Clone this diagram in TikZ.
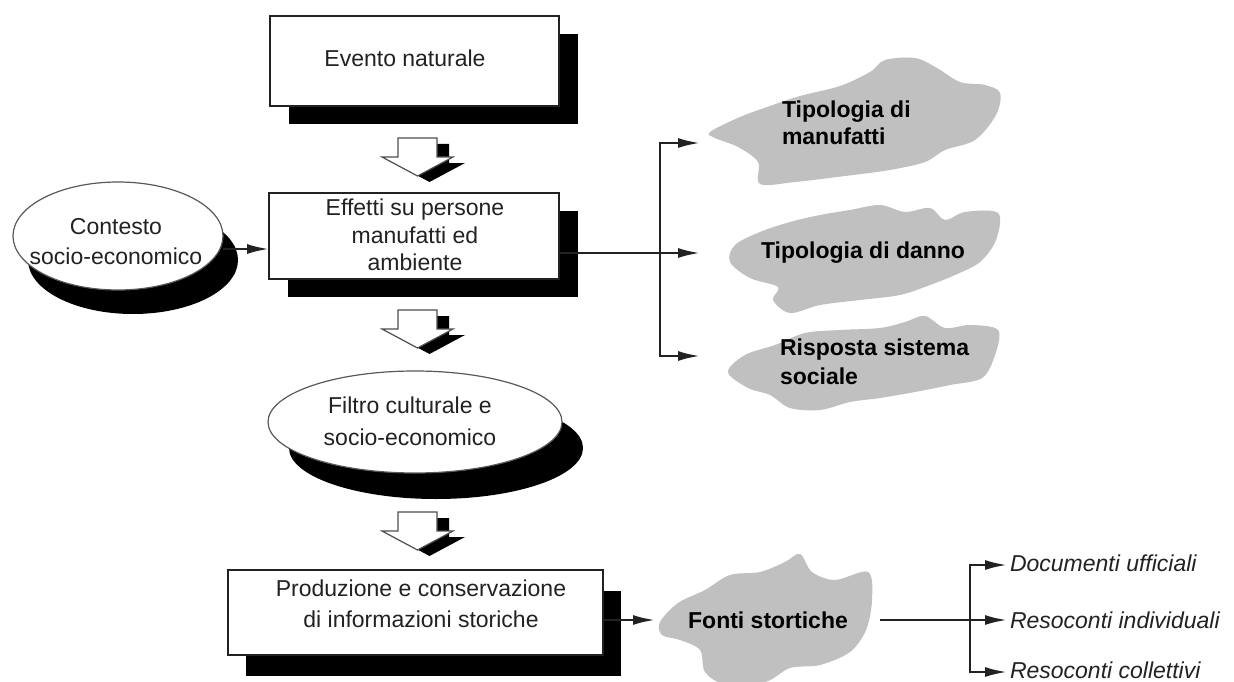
\documentclass[tikz,border=0pt]{standalone}
\usepackage{fontspec}
\setmainfont{Liberation Sans}
\usetikzlibrary{shapes.geometric,shadows,arrows.meta}
\definecolor{cloudgray}{HTML}{C0C0C0}
\definecolor{ink}{HTML}{222222}
\begin{document}
\begin{tikzpicture}[x=1pt,y=-1pt,
  every node/.style={inner sep=0pt, outer sep=0pt},
  boxshape/.style={rectangle, draw=ink, line width=2pt, fill=white},
  boxshadow/.style={drop shadow={shadow xshift=19pt, shadow yshift=-18pt, fill=black, opacity=1}},
  ellshape/.style={ellipse, draw=ink!75, line width=1.2pt, fill=white},
  lbl/.style={text=ink, font=\fontsize{23}{28}\selectfont, align=center},
  cloudlbl/.style={text=black, font=\bfseries\fontsize{23}{28}\selectfont, align=left},
  itlbl/.style={text=ink, font=\itshape\fontsize{23}{28}\selectfont, anchor=west},
  wire/.style={draw=ink, line width=2.4pt},
  conn/.style={wire, -{Latex[length=22pt,width=10pt]}},
  cloudfill/.style={fill=cloudgray},
  blockarrow/.pic={
    \fill[black] (12,6) -- ++(39,0) -- ++(0,19) -- ++(16,0) -- ++(-35.5,19) -- ++(-35.5,-19) -- ++(16,0) -- cycle;
    \draw[fill=white, draw=ink!80, line width=1.2pt] (0,0) -- (39,0) -- (39,19) -- (55,19) -- (19.5,38) -- (-16,19) -- (0,19) -- cycle;
  }
]
\fill[white] (0,0) rectangle (1234,682);
\useasboundingbox (0,0) rectangle (1234,682);

% boxes
\node[boxshape, boxshadow, minimum width=289pt, minimum height=90pt] (evento) at (414.5,61) {};
\node[lbl] (eventot) at (405,58) {Evento naturale};

\node[boxshape, boxshadow, minimum width=290pt, minimum height=86pt] (effetti) at (414,236) {};
\node[lbl, font=\fontsize{23}{27.5}\selectfont] (effettit) at (415,235) {Effetti su persone\\manufatti ed\\ambiente};

\node[boxshape, drop shadow={shadow xshift=18pt, shadow yshift=-21pt, fill=black, opacity=1}, minimum width=375pt, minimum height=85pt] (produzione) at (415.5,612.5) {};
\node[lbl, font=\fontsize{23}{31}\selectfont] (produzionet) at (421,604) {Produzione e conservazione\\di informazioni storiche};

% ellipses
\node[ellshape, drop shadow={shadow xshift=15pt, shadow yshift=-24pt, fill=black, opacity=1}, minimum width=210pt, minimum height=108pt] (contesto) at (118,236) {};
\node[lbl, font=\fontsize{23}{30}\selectfont] (contestot) at (116,242) {Contesto\\socio-economico};

\node[ellshape, drop shadow={shadow xshift=21pt, shadow yshift=-26pt, fill=black, opacity=1}, minimum width=294pt, minimum height=102pt] (filtro) at (415,422) {};
\node[lbl, font=\fontsize{23}{32}\selectfont] (filtrot) at (410,421) {Filtro culturale e\\socio-economico};

% block arrows
\pic at (398,138) {blockarrow};
\pic at (398,310) {blockarrow};
\pic at (398,512) {blockarrow};

% clouds
\fill[cloudfill] plot[smooth cycle, tension=0.55] coordinates {(710,132) (740,117) (770,106) (800,96) (840,86) (870,72) (885,60) (915,58) (937,68) (960,82) (985,85) (1000,93) (996,115) (975,140) (945,150) (925,162) (890,170) (845,176) (795,182) (760,184) (758,162) (738,147) (715,138)};
\fill[cloudfill] plot[smooth cycle, tension=0.55] coordinates {(735,245) (760,232) (790,222) (820,215) (850,210) (880,205) (905,212) (930,208) (945,220) (965,212) (998,213) (996,240) (980,262) (955,275) (930,285) (900,295) (860,300) (820,305) (790,313) (773,300) (778,287) (750,278) (730,262)};
\fill[cloudfill] plot[smooth cycle, tension=0.55] coordinates {(728,372) (745,355) (775,345) (805,333) (840,330) (880,328) (905,322) (925,316) (945,328) (970,325) (998,330) (995,355) (982,378) (950,385) (915,392) (880,398) (850,402) (820,410) (790,408) (770,395) (748,388)};
\fill[cloudfill] plot[smooth cycle, tension=0.55] coordinates {(660,622) (678,603) (705,590) (730,575) (760,572) (785,562) (800,554) (812,572) (835,580) (868,572) (872,600) (866,630) (850,652) (820,665) (790,668) (765,682) (725,684) (705,672) (700,650) (680,640) (662,635)};

\node[cloudlbl, anchor=west, font=\bfseries\fontsize{23}{27}\selectfont] (tipo1) at (782,123) {Tipologia di\\manufatti};
\node[cloudlbl] (tipo2) at (863,253) {Tipologia di danno};
\node[cloudlbl, anchor=west, font=\bfseries\fontsize{23}{29}\selectfont] (risposta) at (780,362) {Risposta sistema\\sociale};
\node[cloudlbl] (fonti) at (768,620) {Fonti stortiche};

% connectors
\draw[conn] ([yshift=-13pt]contesto.east) -- ([yshift=-13pt]effetti.west);

\coordinate (j1) at (660,253);
\coordinate (j1t) at (660,143);
\coordinate (j1b) at (660,356);
\coordinate (a1) at (700,143);
\coordinate (a2) at (700,253);
\coordinate (a3) at (700,356);
\draw[wire] ([yshift=-17pt]effetti.east) -- (j1);
\draw[wire, line cap=rect] (j1t) -- (j1b);
\draw[conn] (j1t) -- (a1);
\draw[conn] (j1) -- (a2);
\draw[conn] (j1b) -- (a3);

\coordinate (f0) at (655,620);
\draw[conn] ([yshift=-7.5pt]produzione.east) -- (f0);

\coordinate (fs) at (880,620);
\coordinate (j2) at (970,620);
\coordinate (j2t) at (970,565);
\coordinate (j2b) at (970,672);
\coordinate (b1) at (1007,565);
\coordinate (b2) at (1007,620);
\coordinate (b3) at (1007,672);
\draw[wire] (fs) -- (j2);
\draw[wire, line cap=rect] (j2t) -- (j2b);
\draw[conn] (j2t) -- (b1);
\draw[conn] (j2) -- (b2);
\draw[conn] (j2b) -- (b3);

\node[itlbl] (doc) at (1010,563) {Documenti ufficiali};
\node[itlbl] (resi) at (1010,620) {Resoconti individuali};
\node[itlbl] (resc) at (1010,670) {Resoconti collettivi};
\end{tikzpicture}
\end{document}
